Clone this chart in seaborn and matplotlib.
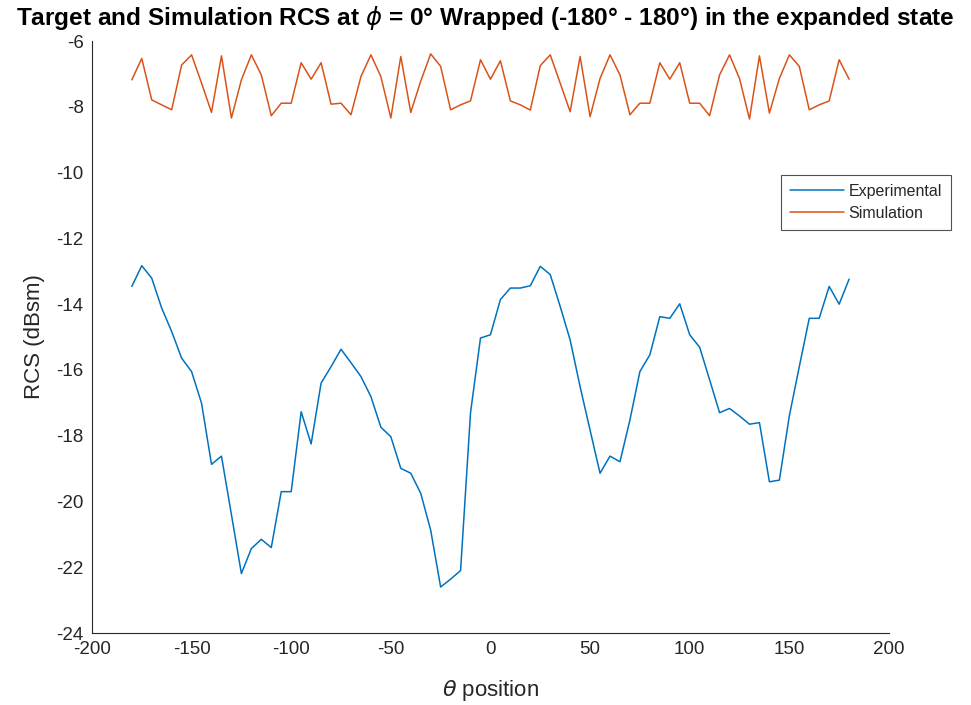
import numpy as np
import pandas as pd
import matplotlib
matplotlib.use("Agg")
import matplotlib.pyplot as plt
import seaborn as sns

theta = list(range(-180, 181, 5))

experimental = [
    -13.46, -12.83, -13.21, -14.12, -14.83, -15.64, -16.05, -17.01, -18.87, -18.62,
    -20.40, -22.19, -21.43, -21.15, -21.40, -19.70, -19.70, -17.27, -18.25, -16.40,
    -15.90, -15.37, -15.78, -16.20, -16.81, -17.74, -18.03, -18.99, -19.14, -19.75,
    -20.87, -22.60, -22.36, -22.10, -17.30, -15.03, -14.93, -13.86, -13.51, -13.51,
    -13.44, -12.85, -13.10, -14.07, -15.09, -16.51, -17.83, -19.14, -18.62, -18.79,
    -17.52, -16.05, -15.54, -14.38, -14.43, -13.99, -14.93, -15.31, -16.30, -17.30,
    -17.17, -17.40, -17.65, -17.60, -19.40, -19.35, -17.40, -15.90, -14.43, -14.43,
    -13.46, -14.00, -13.24,
]

simulation = [
    -7.18, -6.53, -7.79, -7.94, -8.09, -6.73, -6.42, -7.28, -8.17, -6.45,
    -8.34, -7.18, -6.42, -7.03, -8.27, -7.89, -7.89, -6.66, -7.16, -6.66,
    -7.92, -7.89, -8.24, -7.08, -6.42, -7.08, -8.34, -6.47, -8.17, -7.22,
    -6.39, -6.77, -8.09, -7.94, -7.82, -6.57, -7.16, -6.60, -7.82, -7.94,
    -8.10, -6.75, -6.42, -7.28, -8.15, -6.47, -8.30, -7.14, -6.42, -7.03,
    -8.24, -7.89, -7.89, -6.66, -7.16, -6.66, -7.89, -7.89, -8.27, -7.03,
    -6.42, -7.14, -8.37, -6.45, -8.19, -7.14, -6.42, -6.77, -8.09, -7.94,
    -7.82, -6.57, -7.16,
]

series_names = ["Experimental", "Simulation"]
colors = ["#0072BD", "#D95319"]

xticks = list(range(-200, 201, 50))
yticks = list(range(-24, -5, 2))

df = pd.DataFrame({
    "theta": theta * 2,
    "rcs": experimental + simulation,
    "series": [series_names[0]] * len(theta) + [series_names[1]] * len(theta),
})

sns.set_style("white")
plt.rcParams["font.family"] = ["Liberation Sans", "DejaVu Sans"]
plt.rcParams["mathtext.fontset"] = "dejavusans"
plt.rcParams["axes.unicode_minus"] = False

fig = plt.figure(figsize=(9.71, 7.05), dpi=100)
ax = fig.add_axes([0.0947, 0.102, 0.8208, 0.8398])

sns.lineplot(data=df, x="theta", y="rcs", hue="series", hue_order=series_names,
             palette=colors, linewidth=1.1, ax=ax, sort=False, estimator=None)

ax.set_xlim(-200, 200)
ax.set_ylim(-24, -6)
ax.set_xticks(xticks)
ax.set_yticks(yticks)
ax.tick_params(direction="in", length=5, width=0.8, labelsize=13.5, colors="#262626",
               labelcolor="#262626", pad=6)
for s in ["top", "right"]:
    ax.spines[s].set_visible(False)
for s in ["left", "bottom"]:
    ax.spines[s].set_color("#262626")
    ax.spines[s].set_linewidth(0.8)

ax.set_xlabel(r"$\theta$ position", fontsize=16, color="#262626", labelpad=14)
ax.set_ylabel("RCS (dBsm)", fontsize=16, color="#262626", labelpad=8)
fig.text(0.5, 0.994,
         r"Target and Simulation RCS at $\phi$ = 0° Wrapped (-180° - 180°) in the expanded state",
         fontsize=17.6, fontweight="bold", color="black", ha="center", va="top")

leg = ax.legend(loc="upper right", bbox_to_anchor=(0.979, 0.752),
                bbox_transform=fig.transFigure, fontsize=11.5, frameon=True,
                fancybox=False, edgecolor="#262626", handlelength=3.4,
                borderpad=0.55, labelspacing=0.45, handletextpad=0.25,
                borderaxespad=0)
leg.get_frame().set_linewidth(0.8)

fig.savefig("out.png", dpi=100)
